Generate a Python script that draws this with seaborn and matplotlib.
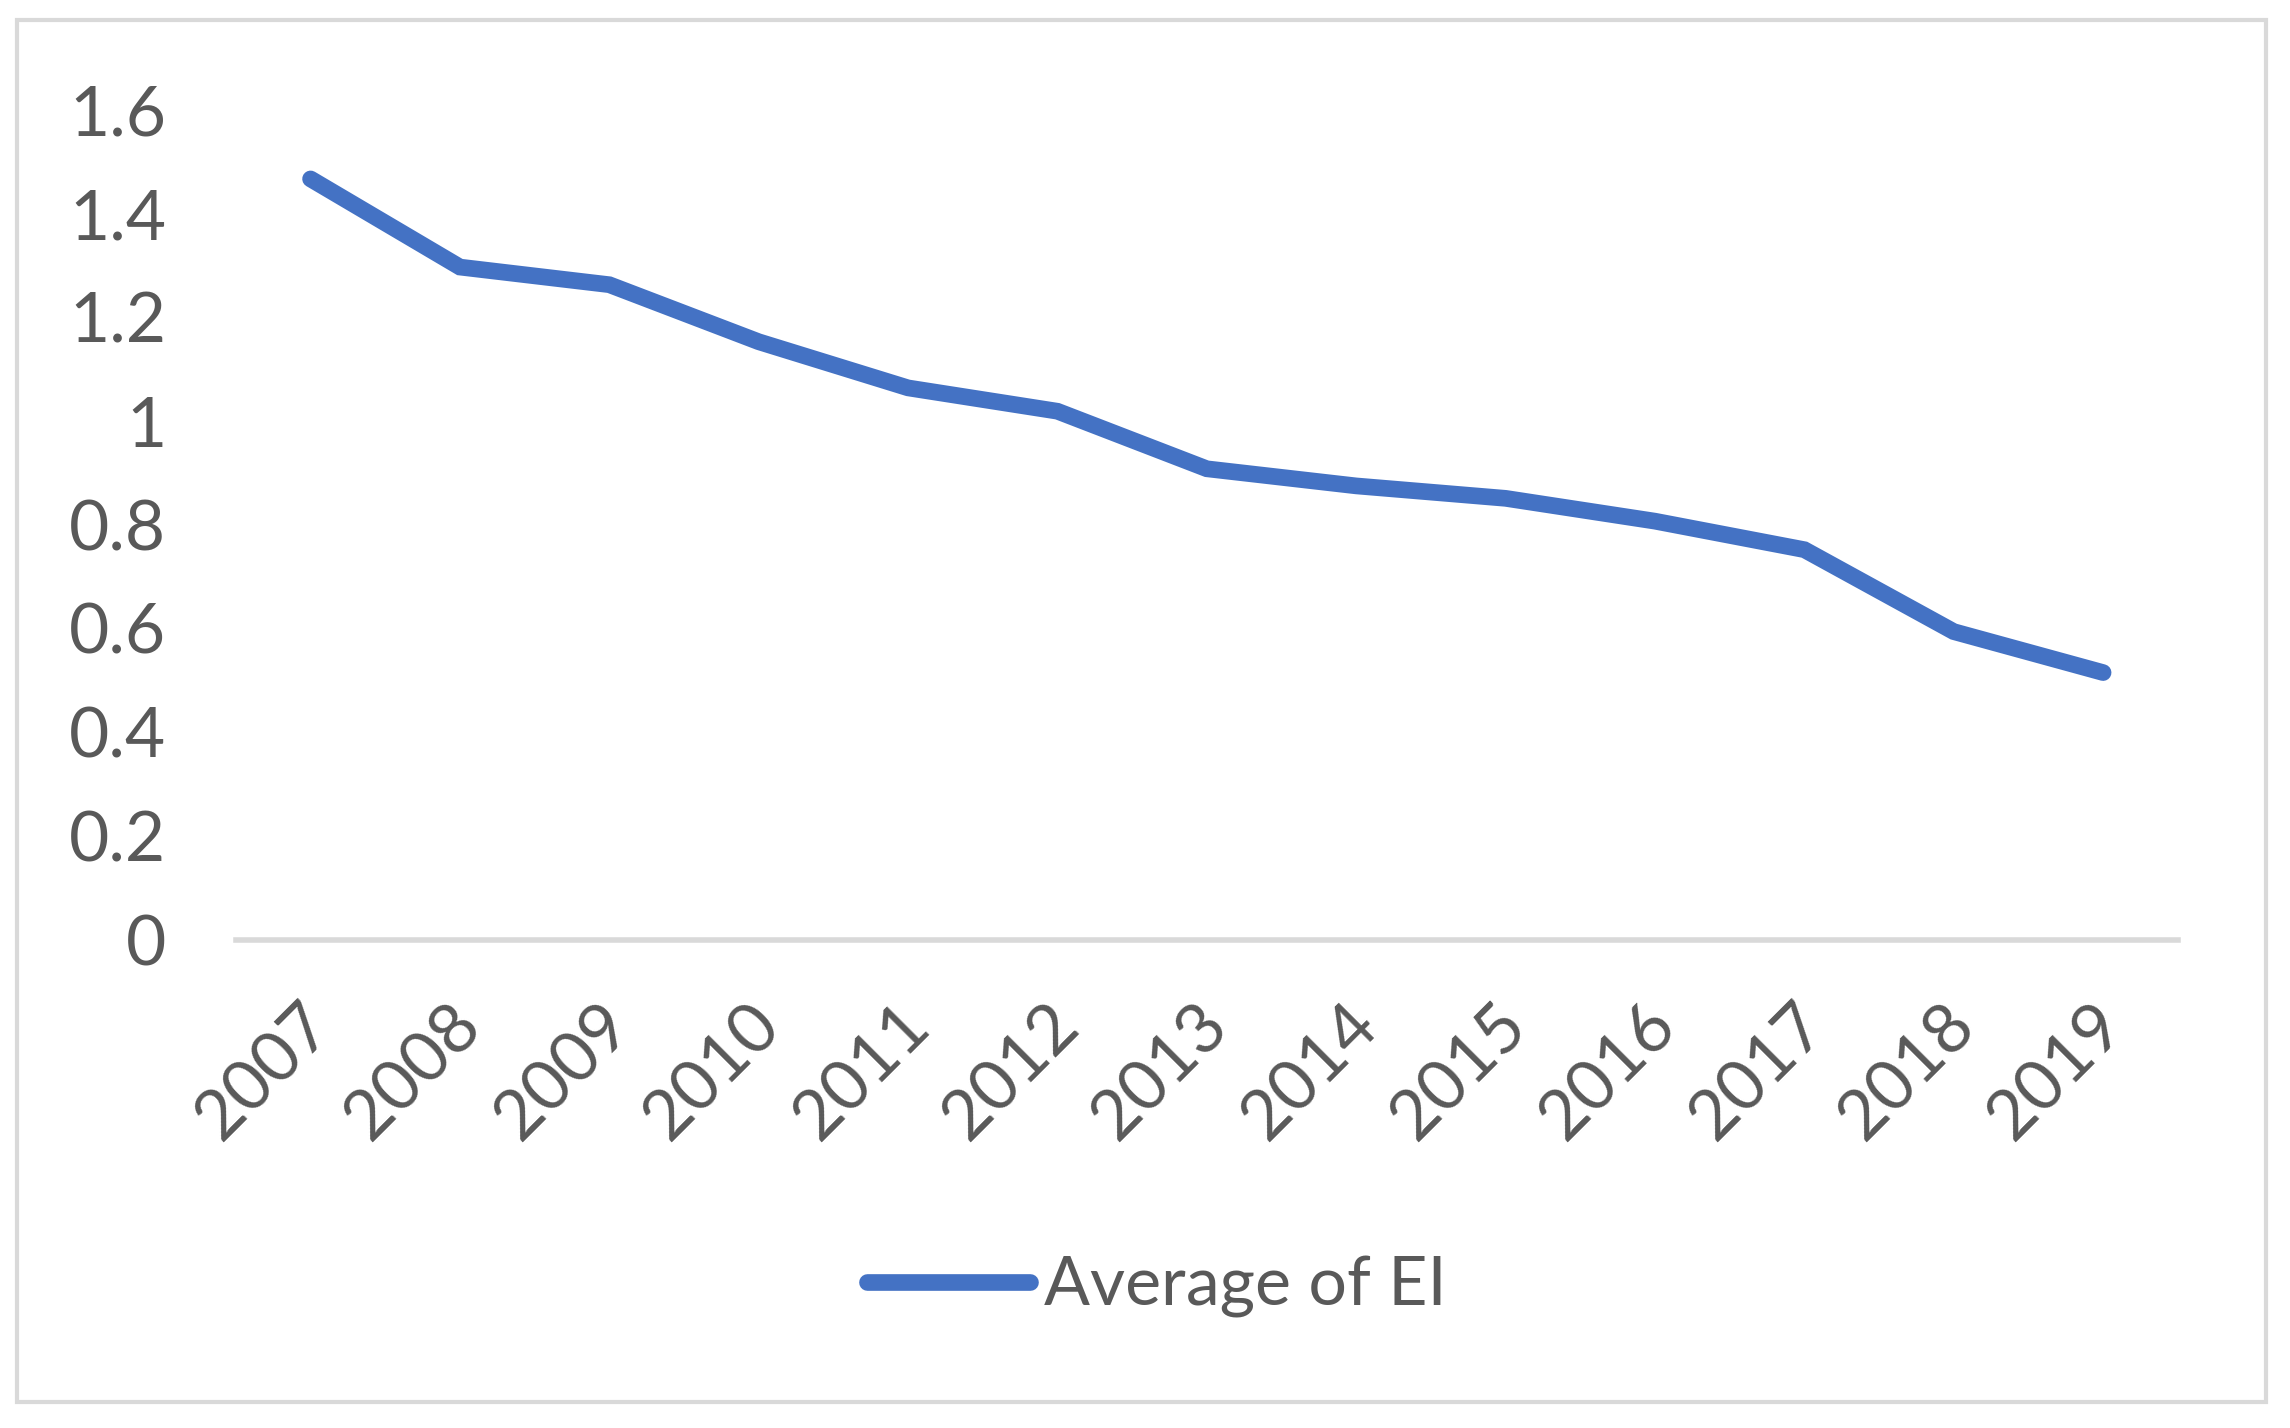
import numpy as np
import pandas as pd
import seaborn as sns
import matplotlib.pyplot as plt
import matplotlib.transforms as mtransforms
from matplotlib.patches import Rectangle

years = [2007, 2008, 2009, 2010, 2011, 2012, 2013, 2014, 2015, 2016, 2017, 2018, 2019]
avg_ei = [1.467, 1.297, 1.263, 1.153, 1.064, 1.019, 0.908, 0.875, 0.851, 0.807, 0.752, 0.594, 0.515]
y_ticks = [0, 0.2, 0.4, 0.6, 0.8, 1, 1.2, 1.4, 1.6]
y_labels = ["0", "0.2", "0.4", "0.6", "0.8", "1", "1.2", "1.4", "1.6"]
series_name = "Average of EI"

sns.set_theme(style="white")
plt.rcParams['font.family'] = ['Lato', 'DejaVu Sans']

text_col = "#595959"
grid_col = "#D9D9D9"
line_col = "#4472C4"

df = pd.DataFrame({"year": years, "value": avg_ei})

fig = plt.figure(figsize=(11.45, 7.14), dpi=200)
ax = fig.add_axes([0.103, 0.342, 0.848, 0.581])

sns.lineplot(data=df, x="year", y="value", ax=ax, color=line_col, lw=6,
             solid_capstyle="round", solid_joinstyle="miter", label=series_name)

ax.set_xlim(2006.5, 2019.5)
ax.set_ylim(0, 1.6)
ax.set_yticks(y_ticks)
ax.set_yticklabels(y_labels)
ax.set_xticks(years)
ax.set_xticklabels([str(y) for y in years], rotation=45, ha="right", va="center",
                   rotation_mode="anchor")
ax.tick_params(axis="both", length=0, labelsize=25, colors=text_col)
ax.tick_params(axis="y", pad=25)
ax.tick_params(axis="x", pad=27)
ax.set_xlabel("")
ax.set_ylabel("")

# nudge the rotated year labels a little to the right
shift = mtransforms.ScaledTranslation(4 / 72, 0, fig.dpi_scale_trans)
for lbl in ax.get_xticklabels():
    lbl.set_transform(lbl.get_transform() + shift)

for s in ["top", "right", "left"]:
    ax.spines[s].set_visible(False)
ax.spines["bottom"].set_color(grid_col)
ax.spines["bottom"].set_linewidth(2)
ax.spines["bottom"].set_zorder(0)

ax.get_legend().remove()
fig.legend(loc="center", bbox_to_anchor=(0.505, 0.099), frameon=False,
           fontsize=24.5, labelcolor=text_col, handlelength=2.4, handletextpad=0.2)

fig.patches.append(Rectangle((0.0074, 0.018), 0.982, 0.968, transform=fig.transFigure,
                             fill=False, edgecolor=grid_col, lw=1.5))

plt.savefig("out.png", dpi=200, facecolor="white")
